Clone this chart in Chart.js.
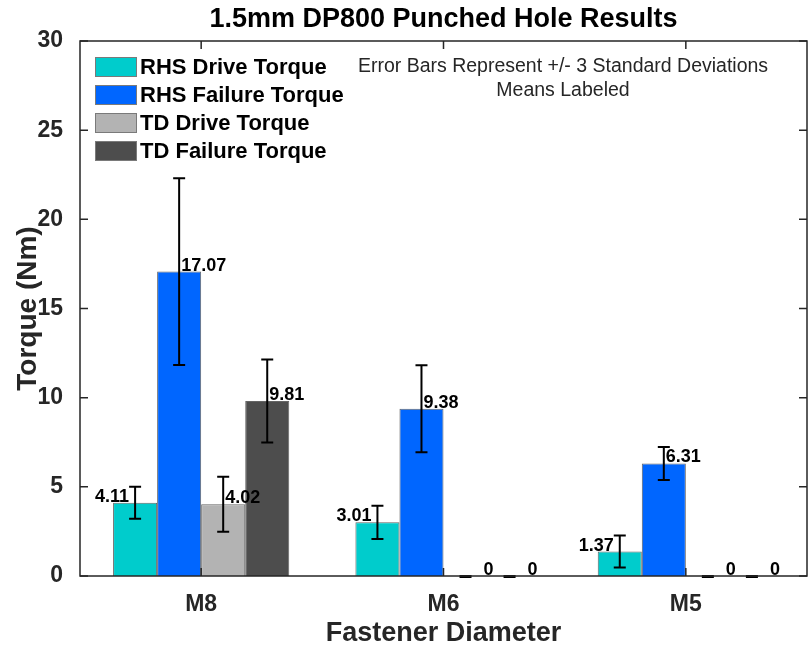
<!DOCTYPE html>
<html>
<head>
<meta charset="utf-8">
<script src="https://cdn.jsdelivr.net/npm/chart.js@4"></script>
<style>
  html, body { margin: 0; padding: 0; background: #fff; }
  #wrap { width: 812px; height: 650px; }
</style>
</head>
<body>
<div id="wrap"><canvas id="torqueChart"></canvas></div>
<script>
var categories = ['M8', 'M6', 'M5'];
var seriesNames = ['RHS Drive Torque', 'RHS Failure Torque', 'TD Drive Torque', 'TD Failure Torque'];
var rhsDrive = [4.11, 3.01, 1.37];
var rhsFailure = [17.07, 9.38, 6.31];
var tdDrive = [4.02, 0, 0];
var tdFailure = [9.81, 0, 0];
// +/- 3 standard deviations
var rhsDriveErr = [0.9, 0.93, 0.9];
var rhsFailureErr = [5.24, 2.44, 0.93];
var tdDriveErr = [1.54, 0, 0];
var tdFailureErr = [2.33, 0, 0];
var yTicks = [0, 5, 10, 15, 20, 25, 30];

var FONT = '"Liberation Sans", Arial, Helvetica, sans-serif';
var AXIS = '#262626';

var errors = [rhsDriveErr, rhsFailureErr, tdDriveErr, tdFailureErr];
var fills = ['rgb(0,204,204)', 'rgb(0,102,255)', 'rgb(179,179,179)', 'rgb(77,77,77)'];

// error bars + mean labels
var errorBarPlugin = {
    id: 'errorBars',
    afterDatasetsDraw: function (chart) {
        var ctx = chart.ctx;
        var y = chart.scales.y;
        ctx.save();
        ctx.strokeStyle = '#000';
        ctx.lineWidth = 2;
        chart.data.datasets.forEach(function (ds, i) {
            var meta = chart.getDatasetMeta(i);
            meta.data.forEach(function (bar, j) {
                var v = ds.data[j], e = errors[i][j];
                var top = y.getPixelForValue(v + e);
                var bot = y.getPixelForValue(v - e) + (e === 0 ? 1 : 0);
                ctx.beginPath();
                ctx.moveTo(bar.x, top); ctx.lineTo(bar.x, bot);
                ctx.moveTo(bar.x - 6, top); ctx.lineTo(bar.x + 6, top);
                ctx.moveTo(bar.x - 6, bot); ctx.lineTo(bar.x + 6, bot);
                ctx.stroke();
            });
        });
        // labels
        ctx.fillStyle = '#000';
        ctx.font = 'bold 18px ' + FONT;
        ctx.textBaseline = 'alphabetic';
        chart.data.datasets.forEach(function (ds, i) {
            var meta = chart.getDatasetMeta(i);
            meta.data.forEach(function (bar, j) {
                var v = ds.data[j];
                var py = y.getPixelForValue(v) - 1;
                var txt = v === 0 ? '0' : v.toFixed(2);
                if (v === 0) {
                    ctx.textAlign = 'left';
                    ctx.fillText(txt, bar.x + 18, py);
                } else if (i === 0) {
                    ctx.textAlign = 'right';
                    ctx.fillText(txt, bar.x - 6, py);
                } else {
                    ctx.textAlign = 'left';
                    ctx.fillText(txt, bar.x + 2, py);
                }
            });
        });
        ctx.restore();
    }
};

// box, inward ticks, legend and note
var framePlugin = {
    id: 'frame',
    afterDraw: function (chart) {
        var ctx = chart.ctx;
        var a = chart.chartArea;
        var xs = chart.scales.x, ys = chart.scales.y;
        ctx.save();
        ctx.strokeStyle = AXIS;
        ctx.lineWidth = 1.5;
        ctx.strokeRect(a.left, a.top, a.right - a.left, a.bottom - a.top);
        ctx.beginPath();
        yTicks.forEach(function (t) {
            var py = ys.getPixelForValue(t);
            ctx.moveTo(a.left, py); ctx.lineTo(a.left + 8, py);
            ctx.moveTo(a.right, py); ctx.lineTo(a.right - 8, py);
        });
        categories.forEach(function (c, i) {
            var px = xs.getPixelForValue(i);
            ctx.moveTo(px, a.bottom); ctx.lineTo(px, a.bottom - 8);
            ctx.moveTo(px, a.top); ctx.lineTo(px, a.top + 8);
        });
        ctx.stroke();

        // legend
        ctx.font = 'bold 22px ' + FONT;
        ctx.textAlign = 'left';
        ctx.textBaseline = 'middle';
        chart.data.datasets.forEach(function (ds, i) {
            var cy = a.top + 26 + i * 28;
            ctx.fillStyle = ds.backgroundColor;
            ctx.fillRect(a.left + 15, cy - 10, 42, 20);
            ctx.strokeStyle = '#7a7a7a';
            ctx.lineWidth = 1;
            ctx.strokeRect(a.left + 15.5, cy - 9.5, 41, 19);
            ctx.fillStyle = '#000';
            ctx.fillText(ds.label, a.left + 60, cy + 1);
        });

        // note
        ctx.font = '19.5px ' + FONT;
        ctx.textAlign = 'center';
        ctx.fillStyle = AXIS;
        ctx.fillText('Error Bars Represent +/- 3 Standard Deviations', 563, a.top + 26);
        ctx.fillText('Means Labeled', 563, a.top + 50);
        ctx.restore();
    }
};

var seriesData = [rhsDrive, rhsFailure, tdDrive, tdFailure];

var ctx = document.getElementById('torqueChart').getContext('2d');
var chart = new Chart(ctx, {
    type: 'bar',
    data: {
        labels: categories,
        datasets: seriesData.map(function (d, i) {
            return {
                label: seriesNames[i],
                data: d,
                backgroundColor: fills[i],
                borderColor: 'rgba(50,50,50,0.75)',
                borderWidth: 1,
                barPercentage: 1,
                categoryPercentage: 0.727
            };
        })
    },
    options: {
        responsive: true,
        maintainAspectRatio: false,
        animation: false,
        layout: { padding: { left: 7, right: 5, top: 0, bottom: 0 } },
        plugins: {
            legend: { display: false },
            tooltip: { enabled: false },
            title: {
                display: true,
                fullSize: false,
                text: '1.5mm DP800 Punched Hole Results',
                color: '#000',
                font: { family: FONT, size: 27, weight: 'bold' },
                padding: { top: 3.8, bottom: 4.8 }
            }
        },
        scales: {
            x: {
                offset: true,
                grid: { display: false },
                border: { display: false },
                ticks: { color: AXIS, padding: 7, font: { family: FONT, size: 23, weight: 'bold' } },
                title: {
                    display: true,
                    text: 'Fastener Diameter',
                    color: AXIS,
                    font: { family: FONT, size: 27, weight: 'bold' },
                    padding: { top: 0, bottom: 0 }
                },
                afterFit: function (s) { s.height = 74; }
            },
            y: {
                min: 0,
                max: 30,
                grid: { display: false },
                border: { display: false },
                afterBuildTicks: function (s) { s.ticks = yTicks.map(function (v) { return { value: v }; }); },
                ticks: { color: AXIS, padding: 9, font: { family: FONT, size: 23, weight: 'bold' } },
                title: {
                    display: true,
                    text: 'Torque (Nm)',
                    color: AXIS,
                    font: { family: FONT, size: 28, weight: 'bold' },
                    padding: { top: 4, bottom: 1 }
                },
                afterFit: function (s) { s.width = 73; }
            }
        }
    },
    plugins: [errorBarPlugin, framePlugin]
});
</script>
</body>
</html>
